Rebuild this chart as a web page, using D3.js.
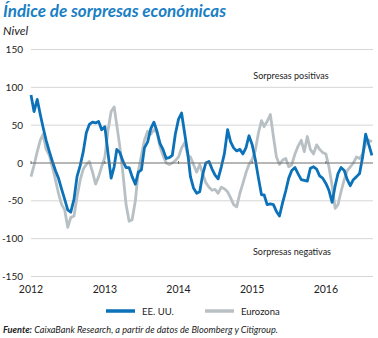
<!DOCTYPE html>
<html><head><meta charset="utf-8">
<script src="https://cdn.jsdelivr.net/npm/d3@7"></script>
<style>
html,body{margin:0;padding:0;background:#fff;}
svg{display:block;}
</style></head>
<body>
<svg id="c" width="378" height="338"></svg>
<script>
// Semi-monthly observations starting January 2012 (1st and 16th of each month)
const startYear = 2012;
const usValues = [90,68,84,64,47,30,15,2,-10,-20,-35,-48,-62,-65,-48,-18,-3,15,40,51,54,53,55,44,48,14,-20,-5,18,14,2,-6,-6,-18,-28,-12,-9,20,28,45,54,42,26,18,6,7,10,38,58,66,38,12,-18,-33,-40,-38,-15,0,2,-8,-16,-21,-5,12,44,28,20,16,18,12,20,36,24,5,-20,-42,-42,-55,-54,-55,-64,-70,-52,-37,-20,-10,-6,-14,-22,-23,-24,-7,-5,-8,-17,-20,-27,-36,-52,-30,-14,-6,-10,-22,-30,-22,-18,-14,8,38,24,10];
const ezValues = [-18,-3,15,30,38,18,10,-5,-22,-40,-55,-62,-85,-72,-70,-45,-22,-8,-2,2,-12,-28,-18,-5,8,42,68,74,50,22,-15,-55,-77,-75,-50,-10,10,30,42,38,44,40,22,10,0,-2,0,3,8,20,27,10,8,-2,-12,-2,-14,-26,-32,-36,-35,-40,-32,-34,-38,-46,-55,-58,-40,-27,-13,-2,5,16,40,56,48,55,64,35,8,-2,4,6,-5,-2,12,22,30,15,35,18,12,24,18,14,12,-5,-30,-60,-55,-38,-22,-10,-5,0,8,6,12,25,30,28];
const yTicks = [150,100,50,0,-50,-100,-150];
const xTickYears = [2012,2013,2014,2015,2016];
const seriesNames = ["EE. UU.","Eurozona"];

const dates = usValues.map((_, k) => new Date(startYear, Math.floor(k/2), k%2 ? 16 : 1));

const svg = d3.select("#c");
const blue = "#0b71b8", grey = "#b8c0c4";
const x = d3.scaleTime().domain([new Date(2012,0,1), new Date(2017,0,1)]).range([31, 399.75]);
const y = d3.scaleLinear().domain([-150,150]).range([276.5, 49.5]);
const x0 = 31, x1 = 373;

// Title
svg.append("text").attr("x",3).attr("y",17)
  .attr("font-family","Lato").attr("font-weight","bold").attr("font-style","italic")
  .attr("font-size",17).attr("fill","#1a7fc4").text("Índice de sorpresas económicas");
svg.append("text").attr("x",3).attr("y",35)
  .attr("font-family","Lato").attr("font-style","italic")
  .attr("font-size",12).attr("fill","#222").text("Nivel");

// Grid
const g = svg.append("g");
g.selectAll("line.grid").data(yTicks.filter(d=>d!==0)).enter().append("line")
  .attr("x1",x0).attr("x2",x1).attr("y1",d=>y(d)).attr("y2",d=>y(d))
  .attr("stroke","#d6d6d6").attr("stroke-width",1);
g.selectAll("text.yl").data(yTicks).enter().append("text")
  .attr("x",23).attr("y",d=>y(d)+3.5).attr("text-anchor","end")
  .attr("font-family","Lato").attr("font-size",10).attr("fill","#222").text(d=>d);

// x labels
g.selectAll("text.xl").data(xTickYears).enter().append("text")
  .attr("x",d=>x(new Date(d,0,1))).attr("y",293).attr("text-anchor","middle")
  .attr("font-family","Lato").attr("font-size",10.5).attr("fill","#222").text(d=>d);

// annotations
svg.append("text").attr("x",291).attr("y",79).attr("text-anchor","middle")
  .attr("font-family","Lato").attr("font-size",9).attr("fill","#222").text("Sorpresas positivas");
svg.append("text").attr("x",292).attr("y",255).attr("text-anchor","middle")
  .attr("font-family","Lato").attr("font-size",9).attr("fill","#222").text("Sorpresas negativas");

// Lines
const line = d3.line().x((d,i)=>x(dates[i])).y(d=>y(d));
svg.append("path").datum(ezValues).attr("d",line).attr("fill","none")
  .attr("stroke",grey).attr("stroke-width",2.8).attr("stroke-linejoin","round");
svg.append("path").datum(usValues).attr("d",line).attr("fill","none")
  .attr("stroke",blue).attr("stroke-width",2.8).attr("stroke-linejoin","round");

// Zero line with ticks
svg.append("line").attr("x1",x0).attr("x2",x1).attr("y1",y(0)).attr("y2",y(0))
  .attr("stroke","#6e6e6e").attr("stroke-width",1);
svg.selectAll("line.zt").data(xTickYears).enter().append("line")
  .attr("x1",d=>x(new Date(d,0,1))).attr("x2",d=>x(new Date(d,0,1)))
  .attr("y1",y(0)-2).attr("y2",y(0)+1).attr("stroke","#6e6e6e").attr("stroke-width",1);

// Legend
const leg = [{name:seriesNames[0],c:blue,x:106},{name:seriesNames[1],c:grey,x:205}];
leg.forEach(l=>{
  svg.append("line").attr("x1",l.x).attr("x2",l.x+29).attr("y1",311).attr("y2",311)
    .attr("stroke",l.c).attr("stroke-width",3.5);
  svg.append("text").attr("x",l.x+36).attr("y",314.5)
    .attr("font-family","Lato").attr("font-size",9.5).attr("fill","#222").text(l.name);
});

// Source
const src = svg.append("text").attr("x",3).attr("y",333)
  .attr("font-family","Lato").attr("font-style","italic").attr("font-size",9.2).attr("fill","#222");
src.append("tspan").attr("font-weight","bold").text("Fuente:");
src.append("tspan").text(" CaixaBank Research, a partir de datos de Bloomberg y Citigroup.");
</script>
</body></html>
